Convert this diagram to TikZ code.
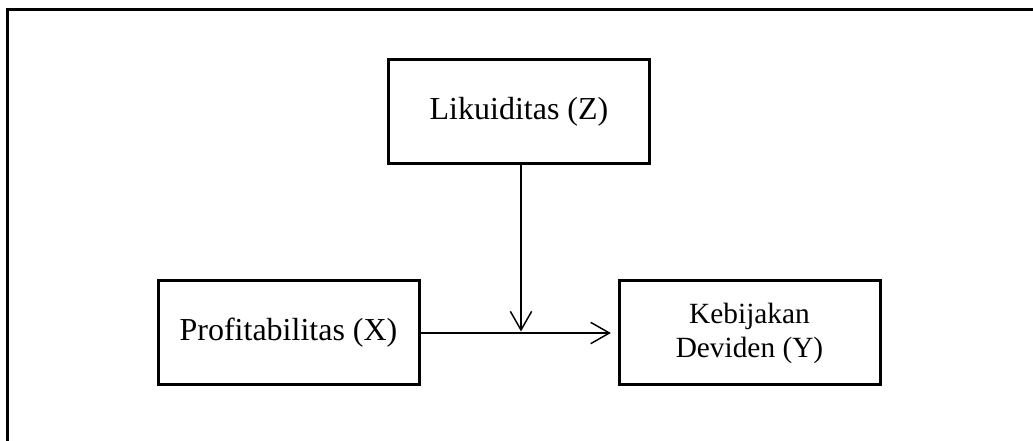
\documentclass[tikz,border=0pt]{standalone}
\usepackage{fontspec}
\setmainfont{Liberation Serif}
\usepackage{tikz}
\usetikzlibrary{arrows.meta}

\tikzset{
  varbox/.style={draw, line width=2.25pt, minimum width=195.75pt, minimum height=78pt, inner sep=0.75pt, align=center},
  linkarrow/.style={line width=1.1pt, -{Straight Barb[length=14pt,width=16pt,line width=1.1pt]}}
}

\begin{document}
\begin{tikzpicture}[x=0.75pt,y=0.75pt,yscale=-1,xscale=1]
\useasboundingbox (0,0) rectangle (1033,441);

%Frame (only top and left edges show)
\draw [line width=2.25pt] (7.5,441) -- (7.5,10) -- (1033,10) ;

% Text Node
\node [varbox, font=\fontsize{24}{28}\selectfont] (likuiditas) at (519,112) {Likuiditas (Z)};
% Text Node
\node [varbox, font=\fontsize{24}{28}\selectfont] (profitabilitas) at (288.5,333) {Profitabilitas (X)};
% Text Node
\node [varbox, font=\fontsize{22}{25.5}\selectfont] (kebijakan) at (749.5,333) {Kebijakan\\Deviden (Y)};

\coordinate (moderasi) at (521,331.5);

%Straight Lines
\draw [linkarrow] (likuiditas.south -| moderasi) -- (moderasi) ;
\draw [linkarrow, shorten >=5pt] (profitabilitas.east) -- (kebijakan.west) ;

\end{tikzpicture}
\end{document}
